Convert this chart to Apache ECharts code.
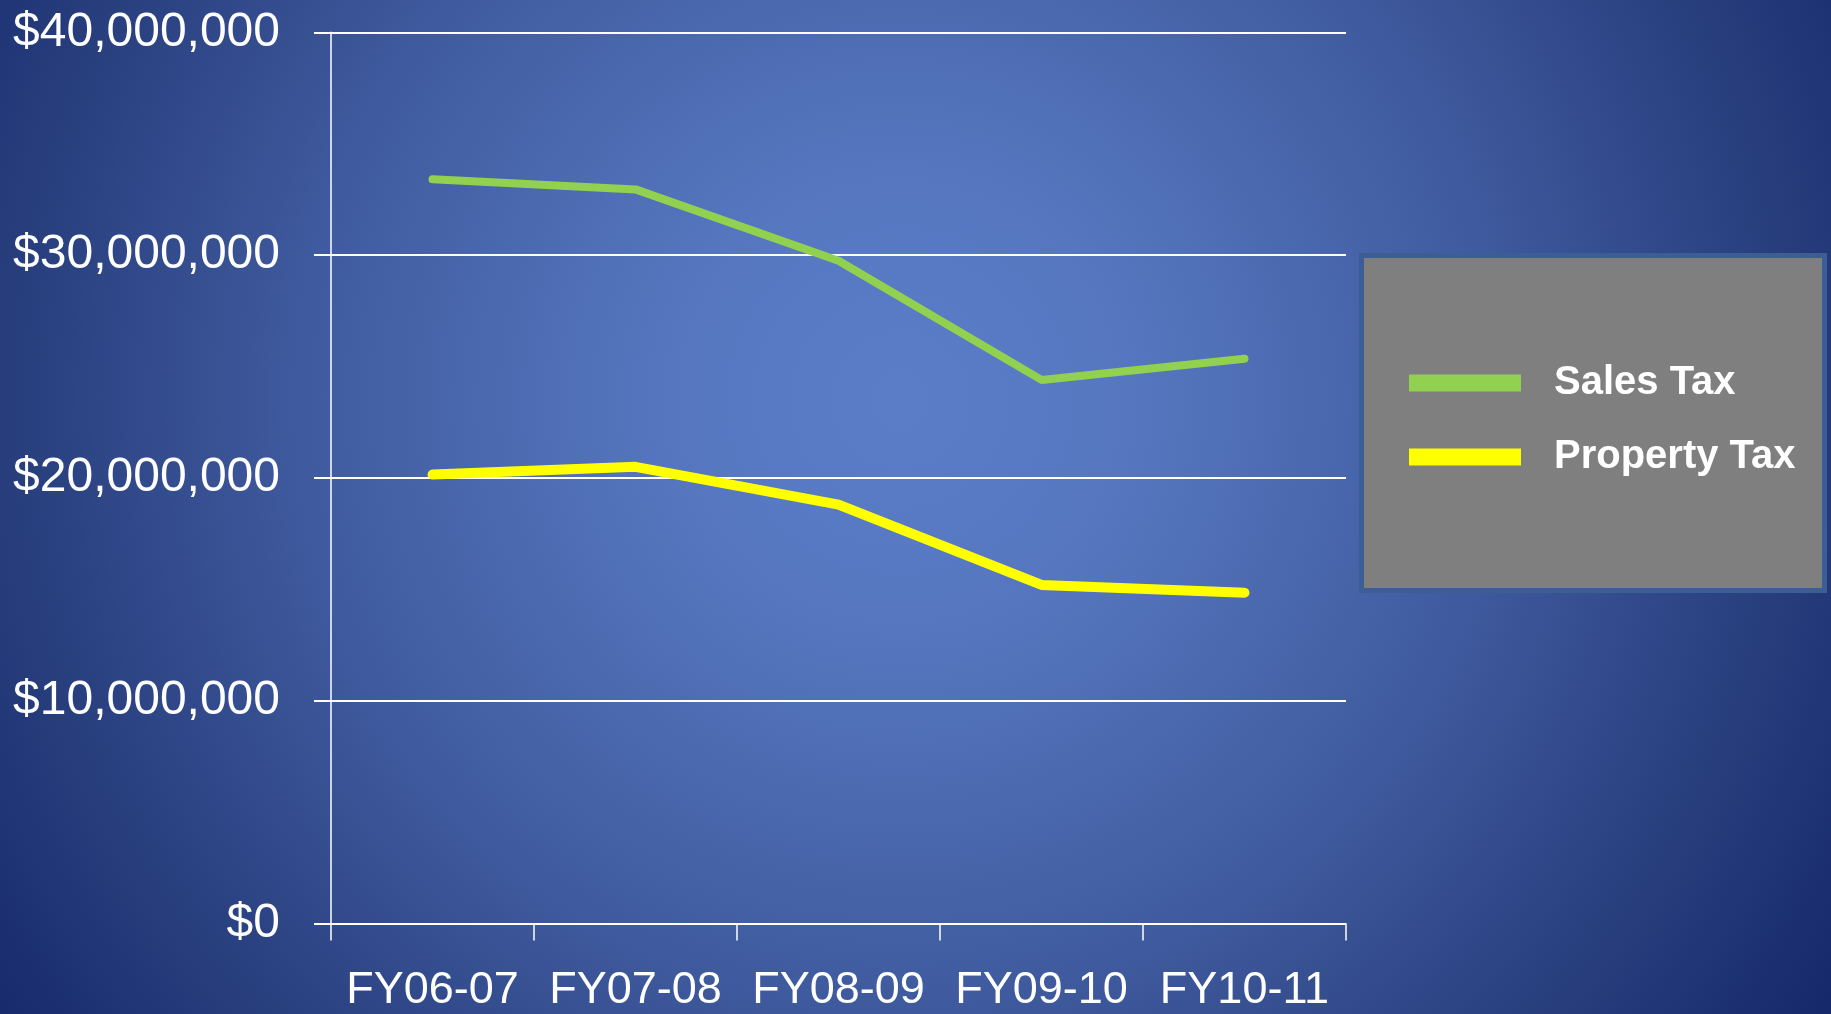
<!DOCTYPE html>
<html>
<head>
<meta charset="utf-8">
<script src="https://cdn.jsdelivr.net/npm/echarts@6/dist/echarts.min.js"></script>
<style>
html,body{margin:0;padding:0;width:100%;height:100%;overflow:hidden;}
#chart{width:1831px;height:1014px;}
</style>
</head>
<body>
<div id="chart"></div>
<script>
const categories = ['FY06-07', 'FY07-08', 'FY08-09', 'FY09-10', 'FY10-11'];
const salesTax = [33400000, 32950000, 29750000, 24400000, 25350000];
const propertyTax = [20150000, 20500000, 18800000, 15200000, 14850000];
const seriesNames = ['Sales Tax', 'Property Tax'];
const yTicks = { min: 0, max: 40000000, interval: 10000000 };

function money(v) {
  return '$' + String(Math.round(v)).replace(/\B(?=(\d{3})+(?!\d))/g, ',');
}

const chart = echarts.init(document.getElementById('chart'));
chart.setOption({
  animation: false,
  backgroundColor: {
    type: 'radial', x: 900, y: 400, r: 1120, global: true,
    colorStops: [
      { offset: 0, color: '#5b7dc8' },
      { offset: 0.2, color: '#5677c0' },
      { offset: 0.5, color: '#425ea2' },
      { offset: 0.8, color: '#273d7c' },
      { offset: 1, color: '#15286a' }
    ]
  },
  grid: { left: 331, right: 485, top: 32.3, bottom: 90.4, containLabel: false },
  graphic: [{
    type: 'rect',
    shape: { x: 1361.5, y: 255.5, width: 463, height: 335 },
    style: { fill: '#7f7f7f', stroke: '#3d5e95', lineWidth: 5 },
    z: 5
  }],
  legend: {
    orient: 'vertical',
    left: 1409, top: 359,
    padding: 0,
    itemWidth: 112, itemHeight: 17, itemGap: 26,
    icon: 'rect',
    z: 10,
    data: seriesNames,
    textStyle: {
      color: '#ffffff', fontSize: 40, fontWeight: 'bold',
      fontFamily: 'Liberation Sans', lineHeight: 48, padding: [0, 0, 0, 28]
    }
  },
  xAxis: {
    type: 'category',
    data: categories,
    boundaryGap: true,
    axisLine: { show: true, lineStyle: { color: '#ffffff', width: 1.5 } },
    axisTick: { show: true, length: 17, interval: 0, lineStyle: { color: '#ffffff', width: 1.5 } },
    axisLabel: {
      interval: 0, color: '#ffffff', fontSize: 45, fontFamily: 'Liberation Sans',
      margin: 44, lineHeight: 46
    },
    splitLine: { show: false }
  },
  yAxis: {
    type: 'value',
    min: yTicks.min, max: yTicks.max, interval: yTicks.interval,
    axisLine: { show: true, lineStyle: { color: '#ffffff', width: 1.5 } },
    axisTick: { show: true, length: 17, lineStyle: { color: '#ffffff', width: 2 } },
    axisLabel: {
      color: '#ffffff', fontSize: 48, fontFamily: 'Liberation Sans', margin: 51,
      formatter: money
    },
    splitLine: { show: true, lineStyle: { color: '#ffffff', width: 2 } }
  },
  series: [
    {
      name: seriesNames[0], type: 'line', data: salesTax,
      symbol: 'none', color: '#92d050',
      lineStyle: { color: '#92d050', width: 8, cap: 'round', join: 'round' }
    },
    {
      name: seriesNames[1], type: 'line', data: propertyTax,
      symbol: 'none', color: '#ffff00',
      lineStyle: { color: '#ffff00', width: 10, cap: 'round', join: 'round' }
    }
  ]
});
</script>
</body>
</html>
